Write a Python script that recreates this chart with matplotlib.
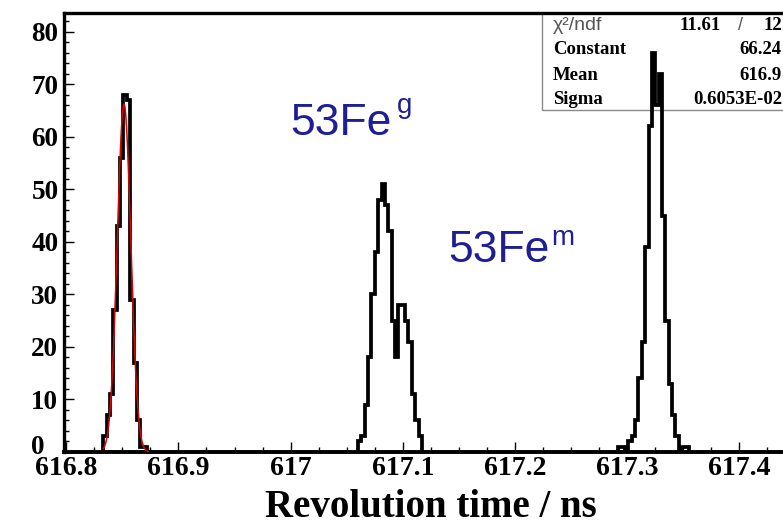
import numpy as np
import matplotlib
matplotlib.use('Agg')
import matplotlib.pyplot as plt
from matplotlib.patches import Rectangle
from matplotlib.ticker import MultipleLocator, FixedLocator, FuncFormatter
from matplotlib.transforms import ScaledTranslation

# ---------------- data ----------------
bin_width = 0.003
peak1_start = 616.833
peak1_counts = [3, 7, 11, 27, 43, 56, 68, 67, 29, 17, 6, 1, 1]
peak2_start = 617.060
peak2_counts = [2, 3, 9, 18, 30, 38, 48, 51, 47, 42, 25, 18, 28, 28, 25, 21, 11, 6, 3]
peak3_start = 617.292
peak3_counts = [1, 1, 0, 2, 3, 6, 14, 21, 39, 62, 76, 66, 72, 45, 25, 13, 7, 3, 0, 1, 1]

fit_constant = 66.24
fit_mean = 616.8515
fit_sigma = 0.6053e-2
fit_range = (616.833, 616.873)

x_ticks = [616.8, 616.9, 617.0, 617.1, 617.2, 617.3, 617.4]
y_ticks = [0, 10, 20, 30, 40, 50, 60, 70, 80]
x_limits = (616.798, 617.5)
y_limits = (0, 83.5)

stat_labels = ["Constant", "Mean", "Sigma"]
stat_values = ["66.24", "616.9", "0.6053E-02"]
chi2_value = "11.61"
ndf_value = "12"

# ---------------- figure ----------------
W, H = 783, 526
fig = plt.figure(figsize=(W / 100, H / 100), dpi=100)
fig.patch.set_facecolor('white')

ax_left, ax_bottom, ax_top = 64, 452, 13.3
ax_w = (x_limits[1] - x_limits[0]) * 1122.0
ax = fig.add_axes([ax_left / W, (H - ax_bottom) / H, ax_w / W, (ax_bottom - ax_top) / H])
ax.set_xlim(*x_limits)
ax.set_ylim(*y_limits)

serif = ['Liberation Serif', 'DejaVu Serif']
sans = ['Liberation Sans', 'DejaVu Sans']

for start, counts in [(peak1_start, peak1_counts), (peak2_start, peak2_counts), (peak3_start, peak3_counts)]:
    counts = np.asarray(counts, dtype=float)
    edges = start + bin_width * np.arange(len(counts) + 1)
    ax.stairs(counts, edges, color='black', linewidth=2.7, baseline=0, zorder=4)

xf = np.linspace(fit_range[0], fit_range[1], 300)
yf = fit_constant * np.exp(-0.5 * ((xf - fit_mean) / fit_sigma) ** 2)
ax.plot(xf, yf, color='#e00000', linewidth=1.1, zorder=5)

# spines / ticks
for s in ['left', 'top']:
    ax.spines[s].set_linewidth(2.4)
ax.spines['bottom'].set_linewidth(2.8)
ax.spines['right'].set_visible(False)

ax.xaxis.set_major_locator(FixedLocator(x_ticks))
ax.xaxis.set_minor_locator(MultipleLocator(0.025))
ax.yaxis.set_major_locator(FixedLocator(y_ticks))
ax.yaxis.set_minor_locator(MultipleLocator(2))
ax.xaxis.set_major_formatter(FuncFormatter(lambda v, p: ('%.1f' % v).rstrip('0').rstrip('.')))
ax.yaxis.set_major_formatter(FuncFormatter(lambda v, p: '%d' % round(v)))

ax.tick_params(axis='both', which='both', direction='in', top=False, right=False, width=1.0)
ax.tick_params(axis='both', which='major', length=7.5)
ax.tick_params(axis='both', which='minor', length=3.8)
ax.tick_params(axis='y', which='major', pad=23.5, labelsize=19.5)
ax.tick_params(axis='x', which='major', pad=3, labelsize=20)
for lbl in ax.get_yticklabels():
    lbl.set_fontfamily(serif)
    lbl.set_fontweight('bold')
    lbl.set_horizontalalignment('left')
for lbl in ax.get_xticklabels():
    lbl.set_fontfamily(serif)
    lbl.set_fontweight('bold')
zero_lbl = ax.get_yticklabels()[0]
zero_lbl.set_transform(zero_lbl.get_transform() + ScaledTranslation(0, 0.08, fig.dpi_scale_trans))

# axis title
fig.text(431 / W, 1 - 517 / H, 'Revolution time / ns', ha='center', va='baseline',
         fontsize=28, fontweight='bold', family=serif)

# isotope annotations
navy = '#1e1e96'
fig.text(290 / W, 1 - 135 / H, '53Fe', ha='left', va='baseline', fontsize=32, color=navy, family=sans)
fig.text(397 / W, 1 - 113 / H, 'g', ha='left', va='baseline', fontsize=20, color=navy, family=sans)
fig.text(448 / W, 1 - 262 / H, '53Fe', ha='left', va='baseline', fontsize=32, color=navy, family=sans)
fig.text(551 / W, 1 - 245 / H, 'm', ha='left', va='baseline', fontsize=20, color=navy, family=sans)

# statistics box
box = Rectangle((541.5 / W, 1 - 110 / H), 1.0, (110 - 13.3) / H, transform=fig.transFigure,
                facecolor='white', edgecolor='#8a8a8a', linewidth=1.0, zorder=1)
ax.add_patch(box)
box.set_clip_on(False)

rows_y = [25, 50, 75, 100]
fig.text(553 / W, 1 - rows_y[0] / H, 'χ²/ndf', ha='left', va='center', fontsize=14,
         color='#555555', family=sans, zorder=6)
fig.text(721 / W, 1 - rows_y[0] / H, chi2_value, ha='right', va='center', fontsize=13.5,
         fontweight='bold', family=serif, zorder=6)
fig.text(741 / W, 1 - rows_y[0] / H, '/', ha='center', va='center', fontsize=13,
         color='#555555', family=sans, zorder=6)
fig.text(782 / W, 1 - rows_y[0] / H, ndf_value, ha='right', va='center', fontsize=13.5,
         fontweight='bold', family=serif, zorder=6)
for yy, lab, val in zip(rows_y[1:], stat_labels, stat_values):
    fig.text(553 / W, 1 - yy / H, lab, ha='left', va='center', fontsize=13.5,
             fontweight='bold', family=serif, zorder=6)
    fig.text(782 / W, 1 - yy / H, val, ha='right', va='center', fontsize=13.5,
             fontweight='bold', family=serif, zorder=6)

fig.savefig('out.png', dpi=100)
